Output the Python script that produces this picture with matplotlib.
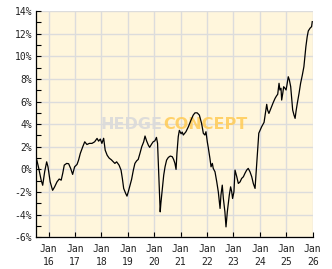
import matplotlib
matplotlib.use("Agg")
import matplotlib.pyplot as plt
from matplotlib import font_manager
import numpy as np

# months since Jan 2016 (fractional) and performance in %
months = [-5.9, -5.4, -4.5, -3.4, -2.7, -1.8, -0.9, -0.3, 0.7, 1.8, 2.7, 3.8, 4.8, 5.7,
          6.4, 7.1, 8.2, 9.1, 10.0, 10.9, 11.8, 12.9, 13.6, 14.4, 15.5, 16.4, 17.4,
          18.5, 19.7, 20.9, 22.0, 22.7, 23.5, 24.2, 25.0, 25.7, 26.6, 27.5, 28.5,
          29.4, 30.1, 30.9, 32.0, 32.9, 33.5, 34.1, 35.0, 35.6, 36.2, 37.0, 37.7,
          38.5, 39.2, 40.0, 40.7, 41.5, 42.3, 43.2, 43.8, 44.5, 45.3, 45.9, 46.8,
          47.5, 48.3, 49.0, 49.5, 49.9, 50.7, 51.0, 51.6, 52.3, 52.9, 53.6, 54.4,
          55.3, 56.2, 56.8, 57.4, 57.9, 58.3, 58.9, 59.4, 60.2, 60.7, 61.2, 62.4,
          63.5, 64.7, 65.7, 66.5, 67.5, 68.5, 69.5, 70.3, 71.0, 71.5, 72.1, 72.6,
          73.3, 73.8, 74.4, 74.8, 75.6, 76.4, 77.1, 77.9, 78.3, 78.9, 79.4, 80.1,
          80.6, 81.2, 82.1, 82.7, 83.2, 83.6, 84.2, 84.7, 85.5, 86.2, 87.0, 87.7,
          88.5, 89.2, 90.0, 90.7, 91.5, 92.3, 93.0, 93.8, 94.2, 94.8, 95.5, 96.8,
          97.9, 99.1, 99.5, 100.1, 101.0, 102.1, 102.9, 103.6, 104.1, 104.7, 105.1,
          105.6, 105.9, 106.4, 106.8, 107.4, 107.9, 108.3, 108.9, 109.4, 110.0,
          110.5, 110.9, 111.5, 112.0, 112.4, 113.0, 113.8, 114.5, 115.3, 116.0,
          116.5, 116.9, 117.5, 118.0, 118.8, 119.5, 119.8]
values = [0.0, 0.85, 0.1, -0.95, -1.4, -0.2, 0.67, 0.23, -1.1, -1.85, -1.55, -1.1, -0.85, -0.95,
          -0.35, 0.38, 0.53, 0.5, 0.09, -0.44, 0.23, 0.44, 0.82, 1.42, 2.0, 2.44, 2.2,
          2.3, 2.3, 2.44, 2.74, 2.5, 2.68, 2.3, 2.75, 1.7, 1.25, 1.0, 0.85,
          0.67, 0.53, 0.67, 0.38, -0.06, -0.8, -1.68, -2.12, -2.36, -1.98, -1.39, -0.88,
          -0.06, 0.53, 0.76, 0.88, 1.42, 2.0, 2.44, 2.95, 2.53, 2.15, 1.95, 2.24,
          2.44, 2.53, 2.83, 2.3, 0.2, -3.75, -3.0, -1.83, -0.5, 0.23, 0.82, 1.06,
          1.18, 1.12, 0.88, 0.53, 0.0, 1.42, 2.89, 3.45, 3.15, 3.3, 3.04, 3.33,
          3.77, 4.36, 4.8, 5.0, 5.0, 4.8, 4.07, 3.19, 3.04, 3.33, 2.44, 1.86,
          0.97, 0.23, 0.53, 0.09, -0.21, -1.1, -1.98, -3.45, -2.27, -1.39, -2.57, -3.75,
          -5.08, -3.75, -2.27, -1.54, -1.98, -2.57, -1.98, -0.06, -0.65, -1.24, -1.1, -0.8,
          -0.65, -0.35, -0.06, 0.09, -0.21, -0.65, -1.24, -1.68, -0.5, 1.27, 3.2, 3.77,
          4.16, 5.75, 5.25, 4.95, 5.4, 5.93, 6.28, 6.51, 6.64, 7.61, 7.02,
          7.17, 6.13, 6.73, 7.31, 7.17, 7.02, 7.46, 8.19, 7.9, 7.31,
          6.13, 5.25, 4.8, 4.51, 5.1, 5.84, 6.73, 7.61, 8.35, 9.08,
          10.1, 10.85, 11.73, 12.24, 12.48, 12.62, 13.06]

tick_years = list(range(2016, 2027))
tick_labels = ["Jan\n%02d" % (y % 100) for y in tick_years]
y_ticks = list(range(-6, 15, 2))
y_labels = ["%d%%" % v for v in y_ticks]

x = [2016 + m / 12.0 for m in months]

# pick a narrow font for the watermark if one is installed
names = {f.name for f in font_manager.fontManager.ttflist}
wm_family = "DejaVu Sans"
wm_size = 11.5
for cand in ["Liberation Sans Narrow", "DejaVu Sans Condensed"]:
    if cand in names:
        wm_family = cand
        wm_size = 16
        break

fig = plt.figure(figsize=(3.32, 2.69), dpi=100)
fig.patch.set_facecolor("white")
ax = fig.add_axes([35.7 / 332, 1 - 237.3 / 269, 277.0 / 332, 226.3 / 269])
ax.set_facecolor("#FFF6DC")

ax.set_xlim(2015.51, 2026.0)
ax.set_ylim(-6, 14)
ax.set_xticks(tick_years)
ax.set_xticklabels(tick_labels, family="DejaVu Sans Mono", fontsize=7, linespacing=1.35)
ax.set_yticks(y_ticks)
ax.set_yticklabels(y_labels, family="DejaVu Sans Mono", fontsize=7)
ax.set_yticks(list(range(-5, 14, 2)), minor=True)
ax.tick_params(axis="both", which="both", direction="in", length=3.5, width=0.8,
               color="black", labelcolor="#222222")
ax.tick_params(axis="x", pad=5)
ax.tick_params(axis="y", pad=2.5)

ax.grid(True, which="major", color="#DCDCDC", linewidth=1.0)
ax.set_axisbelow(True)
for s in ["top", "right"]:
    ax.spines[s].set_visible(False)
for s in ["left", "bottom"]:
    ax.spines[s].set_color("black")
    ax.spines[s].set_linewidth(0.9)

# watermark (inside the axes, above grid, below the line)
ax.text(163 / 332, 1 - 124.5 / 269, "HEDGE", ha="right", va="center",
        transform=fig.transFigure,
        family=wm_family, fontweight="bold", fontsize=wm_size,
        color="#DADADA", alpha=0.9, zorder=3)
ax.text(163 / 332, 1 - 124.5 / 269, "CONCEPT", ha="left", va="center",
        transform=fig.transFigure,
        family=wm_family, fontweight="bold", fontsize=wm_size,
        color="#FFCB55", alpha=0.85, zorder=3)

ax.plot(x, values, color="black", linewidth=0.9, zorder=5)

fig.savefig("out.png", dpi=100)
